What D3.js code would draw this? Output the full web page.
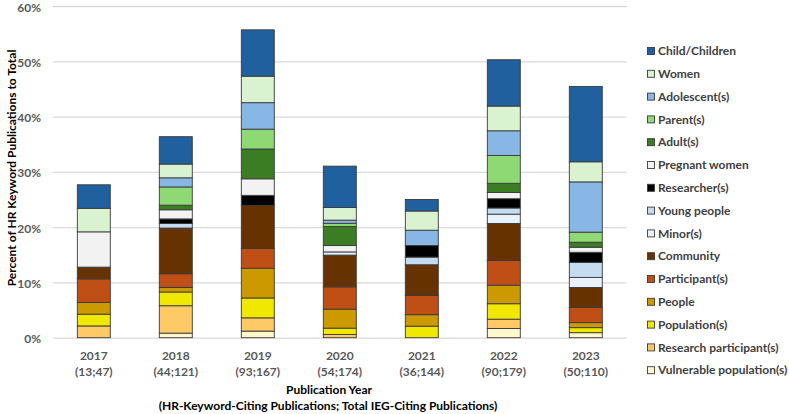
<!DOCTYPE html>
<html>
<head>
<meta charset="utf-8">
<script src="https://cdn.jsdelivr.net/npm/d3@7"></script>
<style>
  html, body { margin: 0; padding: 0; background: #fff; }
  svg { display: block; font-family: Lato, "Open Sans", sans-serif; }
</style>
</head>
<body>
<svg id="chart" width="789" height="414"></svg>
<script>
// ---- data ----
const years = ["2017", "2018", "2019", "2020", "2021", "2022", "2023"];
const hrKeywordPubs = [13, 44, 93, 54, 36, 90, 50];
const totalIegPubs = [47, 121, 167, 174, 144, 179, 110];

// series, bottom of stack first
const seriesNames = [
  "Vulnerable population(s)", "Research participant(s)", "Population(s)", "People",
  "Participant(s)", "Community", "Minor(s)", "Young people", "Researcher(s)",
  "Pregnant women", "Adult(s)", "Parent(s)", "Adolescent(s)", "Women", "Child/Children"
];
// publication counts per keyword and year (2017..2023)
const vulnerable   = [0, 1, 2, 0, 0, 3, 1];
const researchPart = [1, 6, 4, 1, 0, 3, 0];
const population   = [1, 3, 6, 2, 3, 5, 1];
const people       = [1, 1, 9, 6, 3, 6, 1];
const participant  = [2, 3, 6, 7, 5, 8, 3];
const community    = [1, 10, 13, 10, 8, 12, 4];
const minor        = [0, 0, 0, 1, 0, 3, 2];
const youngPeople  = [0, 1, 0, 0, 2, 2, 3];
const researcher   = [0, 1, 3, 0, 3, 3, 2];
const pregnant     = [3, 2, 5, 2, 0, 2, 1];
const adult        = [0, 1, 9, 6, 0, 3, 1];
const parent       = [0, 4, 6, 1, 0, 9, 2];
const adolescent   = [0, 2, 8, 1, 4, 8, 10];
const women        = [2, 3, 8, 4, 5, 8, 4];
const child        = [2, 6, 14, 13, 3, 15, 15];
const seriesCounts = [vulnerable, researchPart, population, people, participant, community,
  minor, youngPeople, researcher, pregnant, adult, parent, adolescent, women, child];

const seriesColors = ["#fff8cc", "#ffca66", "#f0e800", "#cc9900", "#c04f15", "#663300",
  "#e9f1fa", "#c4dbf1", "#000000", "#f2f2f2", "#3b7d23", "#8fd975", "#88b6e5", "#d9f2d0", "#21609e"];

const yTicks = [0, 0.1, 0.2, 0.3, 0.4, 0.5, 0.6];

// ---- build table ----
const table = years.map((yr, i) => {
  const row = { year: yr, label: `(${hrKeywordPubs[i]};${totalIegPubs[i]})` };
  seriesNames.forEach((s, k) => { row[s] = seriesCounts[k][i] / totalIegPubs[i]; });
  return row;
});
const stacked = d3.stack().keys(seriesNames)(table);

// ---- layout ----
const svg = d3.select("#chart");
const plotLeft = 52.8, plotRight = 626.8, plotTop = 6, plotBottom = 337.7;

const x = d3.scaleBand().domain(years).range([plotLeft, plotRight])
  .paddingInner(0.598).paddingOuter(0.299);
const y = d3.scaleLinear().domain([0, 0.6]).range([plotBottom, plotTop]);
const color = d3.scaleOrdinal().domain(seriesNames).range(seriesColors);

// gridlines
const grid = svg.append("g")
  .attr("transform", `translate(${plotLeft},0)`)
  .call(d3.axisLeft(y).tickValues(yTicks).tickSize(-(plotRight - plotLeft)).tickFormat(""));
grid.select(".domain").remove();
grid.selectAll(".tick line").attr("stroke", "#d9d9d9").attr("stroke-width", 1.3);

// y tick labels
const yAxis = svg.append("g")
  .attr("transform", `translate(41,0)`)
  .call(d3.axisLeft(y).tickValues(yTicks).tickSize(0).tickPadding(0).tickFormat(d3.format(".0%")));
yAxis.select(".domain").remove();
yAxis.selectAll("text")
  .attr("dy", "0.42em")
  .attr("fill", "#595959").attr("font-size", "12px").attr("font-weight", "bold")
  .attr("font-family", "Lato, sans-serif");

// bars
svg.append("g").selectAll("g")
  .data(stacked)
  .join("g")
  .attr("fill", d => color(d.key))
  .selectAll("rect")
  .data(d => d.filter(p => p[1] - p[0] > 0))
  .join("rect")
  .attr("x", d => x(d.data.year))
  .attr("width", x.bandwidth())
  .attr("y", d => y(d[1]))
  .attr("height", d => y(d[0]) - y(d[1]))
  .attr("stroke", "#3a3a3a")
  .attr("stroke-width", 0.9);

// x axis labels
const xAxis = svg.append("g")
  .attr("transform", `translate(0,${plotBottom})`)
  .call(d3.axisBottom(x).tickSize(0).tickPadding(0).tickFormat(""));
xAxis.select(".domain").remove();
xAxis.selectAll(".tick").each(function(d, i) {
  const t = d3.select(this);
  t.append("text").attr("y", 22).attr("text-anchor", "middle")
    .attr("fill", "#595959").attr("font-size", "12px").attr("font-weight", "bold")
    .attr("font-family", "Lato, sans-serif").text(d);
  t.append("text").attr("y", 38.5).attr("text-anchor", "middle")
    .attr("fill", "#595959").attr("font-size", "12px").attr("font-weight", "bold")
    .attr("font-family", "Lato, sans-serif").text(table[i].label);
});

// axis titles
svg.append("text")
  .attr("x", 329).attr("y", 394).attr("text-anchor", "middle")
  .attr("font-size", "12px").attr("font-weight", "bold").attr("fill", "#000")
  .text("Publication Year");
svg.append("text")
  .attr("x", 328).attr("y", 409.5).attr("text-anchor", "middle")
  .attr("font-size", "12px").attr("font-weight", "bold").attr("fill", "#000")
  .text("(HR-Keyword-Citing Publications; Total IEG-Citing Publications)");
svg.append("text")
  .attr("transform", "translate(16,168) rotate(-90)")
  .attr("text-anchor", "middle")
  .attr("font-size", "12px").attr("font-weight", "bold").attr("fill", "#000")
  .text("Percent of HR Keyword Publications to Total");

// legend (top-of-stack first)
const legendNames = seriesNames.slice().reverse();
const legend = svg.append("g").selectAll("g")
  .data(legendNames)
  .join("g")
  .attr("transform", (d, i) => `translate(647,${51 + i * 22.8})`);
legend.append("rect")
  .attr("x", 0.5).attr("y", -3.5).attr("width", 7).attr("height", 7)
  .attr("fill", d => color(d)).attr("stroke", "#3a3a3a").attr("stroke-width", 0.9);
legend.append("text")
  .attr("x", 11).attr("y", 0).attr("dy", "0.35em")
  .attr("font-size", "12px").attr("font-weight", "bold").attr("fill", "#404040")
  .text(d => d);
</script>
</body>
</html>
